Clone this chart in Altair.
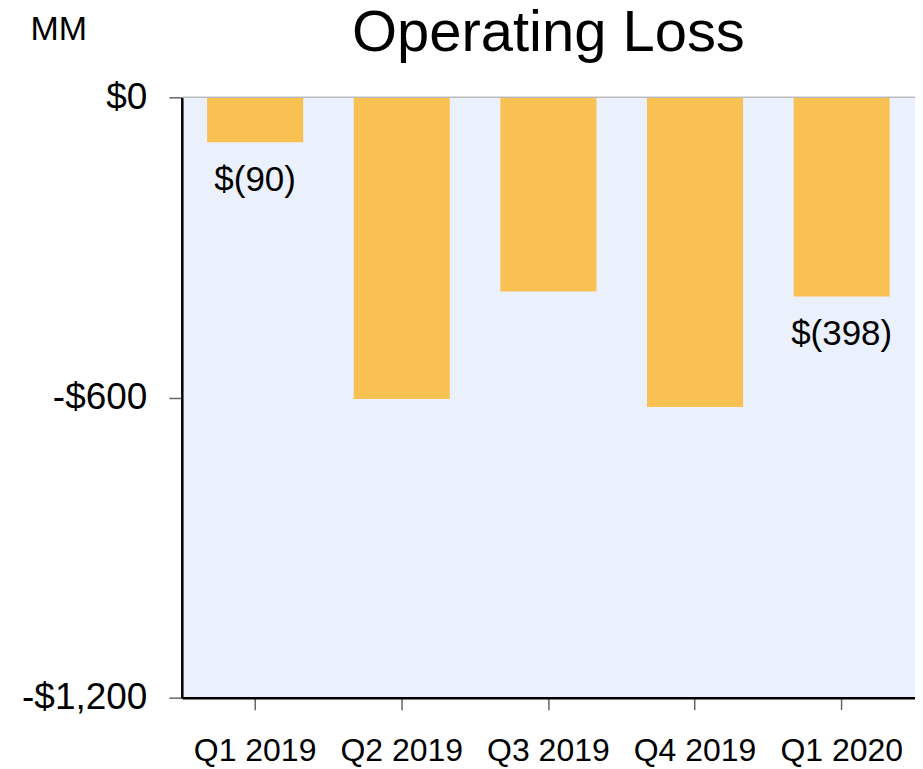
import altair as alt
import pandas as pd

quarters = ["Q1 2019", "Q2 2019", "Q3 2019", "Q4 2019", "Q1 2020"]
operating_loss = [-90, -603, -388, -619, -398]
bar_labels = ["$(90)", "", "", "", "$(398)"]
y_ticks = [-1200, -600, 0]

df = pd.DataFrame({"quarter": quarters, "loss": operating_loss, "label": bar_labels})
zero_df = pd.DataFrame({"zero": [0]})

FONT = "Liberation Sans"
BAR = "#F9C152"
BG = "#EAF1FC"

x_enc = alt.X(
    "quarter:N",
    sort=quarters,
    scale=alt.Scale(paddingInner=0.345, paddingOuter=0.1725),
    axis=alt.Axis(
        title=None,
        labelFont=FONT,
        labelFontSize=32,
        labelColor="black",
        labelAngle=0,
        labelPadding=26,
        domainColor="black",
        domainWidth=2.5,
        tickColor="#666666",
        tickSize=12,
        tickWidth=1.5,
    ),
)

y_enc = alt.Y(
    "loss:Q",
    scale=alt.Scale(domain=[-1200, 0], nice=False),
    axis=alt.Axis(
        values=y_ticks,
        labelExpr="datum.value == 0 ? '$0' : '-$' + format(abs(datum.value), ',')",
        labelFont=FONT,
        labelFontSize=37,
        labelColor="black",
        labelPadding=22,
        labelBaseline="middle",
        domainColor="black",
        domainWidth=2.5,
        tickColor="#666666",
        tickSize=13,
        tickWidth=1.5,
        grid=False,
        title="MM",
        titleFont=FONT,
        titleFontSize=34,
        titleFontWeight="normal",
        titleColor="black",
        titleAngle=0,
        titleAlign="left",
        titleBaseline="alphabetic",
        titleX=-152,
        titleY=-58,
    ),
)

bars = alt.Chart(df).mark_bar(color=BAR).encode(x=x_enc, y=y_enc)

labels = alt.Chart(df).mark_text(
    font=FONT, fontSize=35, color="black", baseline="alphabetic", align="center", dy=49
).encode(x=alt.X("quarter:N", sort=quarters), y=alt.Y("loss:Q"), text="label:N")

zero_line = alt.Chart(zero_df).mark_rule(color="#BBBBBB", strokeWidth=1.5).encode(y="zero:Q")

chart = (
    alt.layer(bars, labels, zero_line)
    .properties(
        width=734,
        height=601,
        autosize=alt.AutoSizeParams(type="none"),
        padding={"left": 174, "top": 89, "right": 0, "bottom": 70},
        background="white",
        title=alt.TitleParams(
            "Operating Loss",
            font=FONT,
            fontSize=58,
            fontWeight="normal",
            color="black",
            anchor="middle",
            frame="group",
            baseline="alphabetic",
            offset=0,
            dy=97,
        ),
    )
    .configure_view(fill=BG, stroke=None)
)

chart.save("out.html", embed_options={"renderer": "svg", "actions": False})
